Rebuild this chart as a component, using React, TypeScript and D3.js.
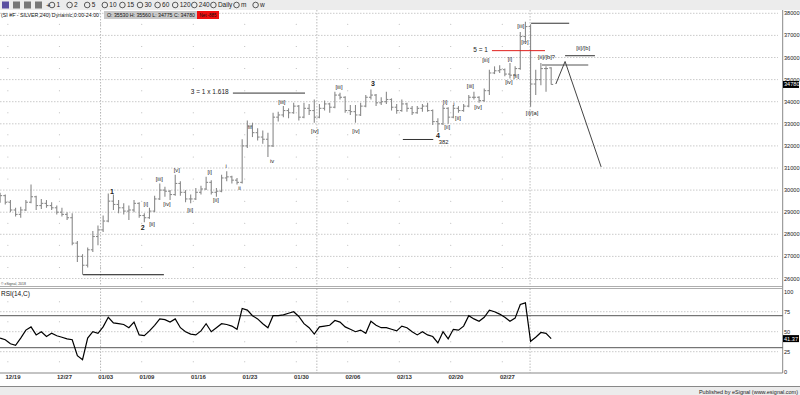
import { scaleLinear, line } from "d3";

// weekly tick labels on the trading-day axis (day 0 = 12/14)
const tickDays = [3, 8, 12, 16, 21, 26, 31, 36, 41, 46, 51];
const tickLabels = ["12/19", "12/27", "01/03", "01/09", "01/16", "01/23", "01/30", "02/06", "02/13", "02/20", "02/27"];
const monthBreaks = [12, 33, 53.7];
const priceTicks = [26, 27, 28, 29, 30, 31, 32, 33, 34, 35, 36, 37, 38];
const rsiTicks = [0, 25, 50, 75, 100];
const rsiBands = [30, 70];
const toolbarItems = ["1", "2", "5", "10", "15", "30", "60", "120", "240", "Daily", "m", "w"];

// two bars per session starting 12/18, prices in thousands  [open, high, low, close]
const firstDay = 2;
const ohlc: [number, number, number, number][] = [
  [29.6, 29.88, 29.43, 29.75], [29.75, 29.8, 29.35, 29.45], [29.45, 29.55, 29.0, 29.1], [29.1, 29.2, 28.8, 28.9],
  [28.9, 29.25, 28.75, 29.1], [29.1, 29.55, 29.05, 29.45], [29.45, 30.25, 29.4, 29.7], [29.7, 29.75, 29.1, 29.3],
  [29.3, 29.6, 29.15, 29.4], [29.4, 29.55, 29.2, 29.3], [29.3, 29.45, 29.1, 29.2], [29.2, 29.3, 28.9, 29.0],
  [29.0, 29.2, 28.8, 28.9], [28.9, 29.0, 28.65, 28.75], [28.75, 28.95, 27.5, 27.6], [27.6, 27.7, 26.75, 27.0],
  [27.0, 27.1, 26.17, 26.6], [26.6, 27.4, 26.5, 27.3], [27.3, 28.15, 27.2, 27.9], [27.9, 28.4, 27.5, 28.2],
  [28.2, 28.85, 28.1, 28.6], [28.6, 29.85, 28.55, 29.5], [29.5, 29.8, 29.1, 29.35], [29.35, 29.55, 28.95, 29.2],
  [29.2, 29.4, 28.9, 29.05], [29.05, 29.3, 28.65, 29.1], [29.1, 29.55, 29.0, 29.4], [29.4, 29.45, 28.75, 28.85],
  [28.85, 28.95, 28.55, 28.75], [28.75, 29.2, 28.7, 29.05], [29.05, 29.75, 29.0, 29.6], [29.6, 30.3, 29.55, 30.0],
  [30.0, 30.15, 29.7, 29.95], [29.95, 30.0, 29.55, 29.8], [29.8, 30.7, 29.75, 30.3], [30.3, 30.4, 29.75, 29.9],
  [29.9, 30.0, 29.45, 29.6], [29.6, 29.8, 29.4, 29.6], [29.6, 30.1, 29.55, 29.9], [29.9, 30.2, 29.8, 30.05],
  [30.05, 30.6, 30.0, 30.35], [30.35, 30.45, 29.8, 29.9], [29.9, 30.1, 29.7, 29.95], [29.95, 30.7, 29.9, 30.55],
  [30.55, 30.85, 30.4, 30.6], [30.6, 30.65, 30.3, 30.45], [30.45, 30.55, 30.25, 30.35], [30.35, 32.3, 30.3, 32.0],
  [32.0, 33.15, 31.9, 32.9], [32.9, 33.05, 32.4, 32.6], [32.6, 32.8, 32.25, 32.4], [32.4, 32.7, 32.1, 32.3],
  [32.3, 32.6, 31.5, 32.0], [32.0, 33.5, 31.95, 33.3], [33.3, 33.55, 33.1, 33.4], [33.4, 33.8, 33.3, 33.6],
  [33.6, 33.7, 33.25, 33.5], [33.5, 33.95, 33.45, 33.8], [33.8, 33.85, 33.15, 33.3], [33.3, 33.95, 33.25, 33.7],
  [33.7, 33.9, 33.4, 33.6], [33.6, 34.1, 33.05, 33.3], [33.3, 33.9, 33.25, 33.7], [33.7, 34.05, 33.6, 33.9],
  [33.9, 33.95, 33.5, 33.75], [33.75, 34.45, 33.7, 34.3], [34.3, 34.4, 34.1, 34.2], [34.2, 34.25, 33.5, 33.6],
  [33.6, 33.85, 33.4, 33.55], [33.55, 33.85, 33.05, 33.4], [33.4, 33.95, 33.35, 33.8], [33.8, 34.3, 33.75, 34.2],
  [34.2, 34.55, 34.1, 34.3], [34.3, 34.35, 33.8, 33.95], [33.95, 34.2, 33.85, 34.0], [34.0, 34.45, 33.9, 34.1],
  [34.1, 34.15, 33.6, 33.75], [33.75, 33.9, 33.45, 33.6], [33.6, 34.1, 33.55, 33.9], [33.9, 33.95, 33.55, 33.7],
  [33.7, 33.8, 33.4, 33.5], [33.5, 33.8, 33.45, 33.7], [33.7, 33.9, 33.55, 33.8], [33.8, 33.95, 33.55, 33.6],
  [33.6, 33.65, 32.95, 33.1], [33.1, 33.25, 32.63, 33.0], [33.0, 33.85, 32.95, 33.7], [33.7, 33.75, 33.0, 33.3],
  [33.3, 33.85, 33.25, 33.7], [33.7, 33.8, 33.5, 33.6], [33.6, 33.9, 33.55, 33.8], [33.8, 34.3, 33.75, 34.2],
  [34.2, 34.45, 34.1, 34.2], [34.2, 34.25, 33.95, 34.05], [34.05, 34.6, 34.0, 34.5], [34.5, 35.45, 34.3, 35.3],
  [35.3, 35.6, 35.25, 35.4], [35.4, 35.65, 35.3, 35.45], [35.45, 35.5, 35.15, 35.25], [35.25, 35.75, 35.05, 35.2],
  [35.2, 35.6, 35.15, 35.5], [35.5, 37.15, 35.45, 36.95], [36.95, 37.62, 36.7, 37.4], [37.4, 37.5, 33.77, 34.8],
  [34.8, 35.45, 34.3, 35.0], [35.0, 35.75, 34.75, 35.5], [35.5, 35.6, 34.45, 35.5], [35.53, 35.56, 34.775, 34.78],
];

const rsi = [
  42, 40, 35, 33, 42, 52, 56, 46, 50, 44,
  48, 45, 43, 41, 40, 20, 15, 42, 50, 48,
  56, 68, 61, 60, 59, 55, 62, 46, 45, 51,
  58, 66, 65, 62, 66, 55, 50, 47, 46, 51,
  60, 50, 55, 60, 59, 57, 53, 79, 77, 70,
  66, 60, 55, 70, 70, 71, 73, 75, 69, 60,
  55, 47, 56, 57, 58, 64, 62, 56, 53, 50,
  52, 48, 63, 58, 55, 55, 53, 51, 57, 55,
  50, 46, 50, 46, 44, 36, 50, 41, 53, 52,
  57, 70, 66, 63, 68, 77, 75, 72, 68, 63,
  67, 84, 86, 38, 43, 49, 48, 41.37,
];

// wave counts: [text, day, price, bold]
const waveLabels: [string, number, number, boolean][] = [
  ["1", 13.1, 29.91, true], ["2", 16.1, 28.29, true], ["3", 38.45, 34.8, true], ["4", 44.76, 32.45, true],
  ["382", 45.3, 32.2, false],
  ["[i]", 16.4, 29.37, false], ["[ii]", 17.0, 28.47, false], ["[iii]", 17.7, 30.5, false], ["[iv]", 18.45, 29.37, false],
  ["[v]", 19.4, 30.91, false], ["[ii]", 20.7, 29.1, false], ["[i]", 22.6, 30.82, false], ["[ii]", 23.2, 29.55, false],
  ["i", 24.2, 31.1, false], ["ii", 25.5, 30.1, false], ["iii", 26.5, 32.85, false], ["iv", 28.65, 31.32, false],
  ["[iii]", 29.6, 33.99, false], ["[iv]", 32.8, 32.67, false], ["[iii]", 35.15, 34.66, false], ["[iv]", 36.8, 32.67, false],
  ["[i]", 45.45, 33.99, false], ["[ii]", 45.65, 32.86, false], ["i", 46.3, 33.9, false], ["[ii]", 46.7, 33.26, false],
  ["[iii]", 47.9, 34.71, false], ["[iv]", 48.65, 33.76, false], ["[iii]", 49.4, 35.89, false], ["[i]", 51.75, 35.93, false],
  ["[iv]", 51.65, 34.89, false], ["[ii]", 52.35, 35.16, false], ["[iii]", 52.8, 37.43, false], ["[iv]", 53.2, 36.7, false],
  ["[i]/[a]", 53.9, 33.49, false], ["[ii]/[b]?", 55.3, 36.03, false], ["[ii]/[b]", 58.85, 36.43, false],
];
const noteLabels: [string, number, number][] = [
  ["3 = 1 x 1.618", 22.6, 34.44],
  ["5 = 1", 48.9, 36.34],
];
// annotation lines in [day, price]
const annotLines: { pts: [number, number][]; color: string }[] = [
  { pts: [[10.3, 26.17], [18.15, 26.17]], color: "#111" },
  { pts: [[24.85, 34.39], [31.85, 34.39]], color: "#333" },
  { pts: [[41.35, 32.29], [44.3, 32.29]], color: "#333" },
  { pts: [[50.0, 36.31], [55.15, 36.31]], color: "#e0201c" },
  { pts: [[53.8, 37.55], [57.5, 37.55]], color: "#333" },
  { pts: [[57.1, 36.08], [60.0, 36.08]], color: "#333" },
  { pts: [[54.85, 35.66], [59.35, 35.66]], color: "#555" },
  { pts: [[56.2, 34.8], [57.1, 35.82], [60.6, 31.05]], color: "#444" },
];

const W = 800;
const H = 395;
const plotRight = 782.7;
const mainTop = 10;
const mainBottom = 286.5;
const rsiTop = 288.5;
const rsiBottom = 373;
const font = "'Liberation Sans', Arial, sans-serif";

const App = () => {
  const x = scaleLinear().domain([0, 78]).range([-23.05, 780.35]);
  const y = scaleLinear().domain([26, 38]).range([278.5, 13.3]);
  const yR = scaleLinear().domain([0, 100]).range([371.7, 291.7]);
  const barX = (i: number) => x(firstDay + (i + 0.5) / 2);

  const rsiLine = line<number>()
    .x((_, i) => barX(i))
    .y((d) => yR(d));
  const pathLine = line<[number, number]>()
    .x((d) => x(d[0]))
    .y((d) => y(d[1]));

  const last = ohlc[ohlc.length - 1];
  const lastRsi = rsi[rsi.length - 1];

  const halfLevels = priceTicks.slice(0, -1).map((p) => p + 0.5);
  const rsiDots = [12.5, 37.5, 62.5, 87.5];

  return (
    <svg width={W} height={H} style={{ display: "block", fontFamily: font }}>
      <style>{`body{margin:0}`}</style>
      <rect width={W} height={H} fill="#fff" />

      {/* toolbar */}
      <rect x={0} y={0} width={W} height={mainTop} fill="#ececec" />
      {[0, 1, 2, 3].map((k) => (
        <rect key={k} x={2 + k * 11} y={1.5} width={7} height={7} fill={k === 0 ? "#5a4fa0" : "#777"} />
      ))}
      <text x={46} y={7.5} fontSize={8} fill="#222">+</text>
      {toolbarItems.map((t, i) => {
        const tx = 52 + i * 17.6 + (i > 7 ? (i - 7) * 1.5 : 0) + (i > 9 ? 4 : 0);
        return (
          <g key={t}>
            <circle cx={tx} cy={5} r={2.8} fill="none" stroke="#333" strokeWidth={0.8} />
            <text x={tx + 4.5} y={7.3} fontSize={6.5} fill="#222">{t}</text>
          </g>
        );
      })}

      {/* grid */}
      {priceTicks.map((p) => (
        <line key={p} x1={0} x2={778} y1={y(p)} y2={y(p)} stroke="#bdbdbd" strokeWidth={0.8} strokeDasharray="1.5,1.5" />
      ))}
      {tickDays.map((d) =>
        halfLevels.map((p) => <circle key={d + "-" + p} cx={x(d)} cy={y(p)} r={0.5} fill="#aaa" />)
      )}
      {tickDays.map((d) =>
        rsiDots.map((r) => <circle key={d + "r" + r} cx={x(d)} cy={yR(r)} r={0.5} fill="#aaa" />)
      )}
      {[25, 50, 75].map((r) => (
        <line key={r} x1={0} x2={778} y1={yR(r)} y2={yR(r)} stroke="#bdbdbd" strokeWidth={0.8} strokeDasharray="1.5,1.5" />
      ))}
      {monthBreaks.map((d) => (
        <g key={d}>
          <line x1={x(d)} x2={x(d)} y1={mainTop} y2={mainBottom} stroke="#aaa" strokeWidth={0.8} strokeDasharray="1.5,1.5" />
          <line x1={x(d)} x2={x(d)} y1={rsiTop} y2={rsiBottom} stroke="#aaa" strokeWidth={0.8} strokeDasharray="1.5,1.5" />
        </g>
      ))}

      {/* title row */}
      <text x={1} y={17} fontSize={6} fill="#111" textLength={98} lengthAdjust="spacingAndGlyphs">
        (SI #F - SILVER,240) Dynamic,0:00-24:00
      </text>
      <rect x={104} y={11} width={93} height={8} fill="#c9c9c9" />
      <text x={107} y={17.2} fontSize={5.2} fill="#111" textLength={88} lengthAdjust="spacingAndGlyphs">
        O: 35530   H: 35560   L: 34775   C: 34780
      </text>
      <rect x={197} y={11} width={22} height={8} fill="#f01010" />
      <text x={199.5} y={17.2} fontSize={5.2} fill="#111" textLength={17} lengthAdjust="spacingAndGlyphs">Net -885</text>

      {/* price bars */}
      {ohlc.map(([o, h, l, c], i) => {
        const bx = barX(i);
        return (
          <g key={i} stroke="#8a8a8a" strokeWidth={1.1}>
            <line x1={bx} x2={bx} y1={y(h)} y2={y(l)} />
            <line x1={bx - 2} x2={bx} y1={y(o)} y2={y(o)} />
            <line x1={bx} x2={bx + 2} y1={y(c)} y2={y(c)} />
          </g>
        );
      })}

      {/* annotations */}
      {annotLines.map((a, i) => (
        <path key={i} d={pathLine(a.pts) || ""} fill="none" stroke={a.color} strokeWidth={1} />
      ))}
      {waveLabels.map(([t, d, p, b], i) => (
        <text key={i} x={x(d)} y={y(p) + 2.2} fontSize={b ? 7 : 5.8} fontWeight={b ? "bold" : "normal"} textAnchor="middle" fill="#222">
          {t}
        </text>
      ))}
      {noteLabels.map(([t, d, p], i) => (
        <text key={i} x={x(d)} y={y(p) + 2.3} fontSize={6.5} textAnchor="middle" fill="#222">{t}</text>
      ))}

      {/* panel frames */}
      <line x1={0} x2={plotRight} y1={mainBottom} y2={mainBottom} stroke="#999" strokeWidth={0.8} />
      <line x1={plotRight} x2={plotRight} y1={mainTop} y2={rsiBottom} stroke="#888" />
      <line x1={0} x2={plotRight} y1={rsiTop} y2={rsiTop} stroke="#999" strokeWidth={0.8} />
      <line x1={0} x2={plotRight} y1={rsiBottom} y2={rsiBottom} stroke="#888" />
      <line x1={0} x2={W} y1={386.5} y2={386.5} stroke="#888" />
      <text x={1} y={285} fontSize={3.5} fill="#444">© eSignal, 2018</text>

      {/* price axis */}
      {priceTicks.map((p) => (
        <text key={p} x={784} y={y(p) + 2} fontSize={5.6} fill="#222">{Math.round(p * 1000)}</text>
      ))}
      <rect x={783} y={y(last[3]) - 3.5} width={16} height={7} fill="#000" />
      <text x={784} y={y(last[3]) + 2} fontSize={5.6} fill="#fff">{Math.round(last[3] * 1000)}</text>

      {/* RSI panel */}
      <text x={1} y={296} fontSize={6.5} fill="#111">RSI(14,C)</text>
      {rsiBands.map((r) => (
        <line key={r} x1={0} x2={plotRight} y1={yR(r)} y2={yR(r)} stroke="#555" strokeWidth={1} />
      ))}
      <path d={rsiLine(rsi) || ""} fill="none" stroke="#000" strokeWidth={1.2} />
      {rsiTicks.map((r) => (
        <text key={r} x={784} y={yR(r) + 2} fontSize={5.6} fill="#222">{r}</text>
      ))}
      <rect x={783} y={yR(lastRsi) - 3.5} width={16} height={7} fill="#000" />
      <text x={784} y={yR(lastRsi) + 2} fontSize={5.6} fill="#fff">{lastRsi.toFixed(2)}</text>

      {/* time axis */}
      {tickDays.map((d, i) => (
        <text key={d} x={x(d + 0.5)} y={379} fontSize={6} fontWeight="bold" textAnchor="middle" fill="#333">
          {tickLabels[i]}
        </text>
      ))}

      {/* footer */}
      <rect x={0} y={387} width={W} height={8} fill="#ececec" />
      <text x={798} y={393.5} fontSize={5.5} textAnchor="end" fill="#222">Published by eSignal (www.esignal.com)</text>
    </svg>
  );
};

export default App;
